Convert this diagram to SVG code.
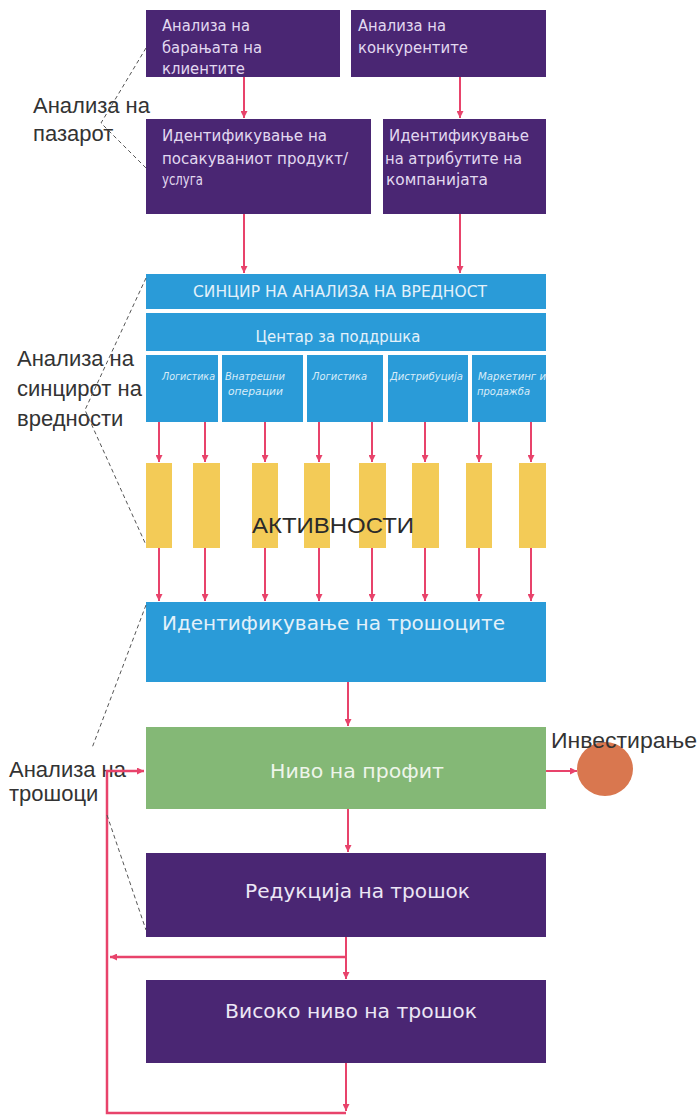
<svg xmlns="http://www.w3.org/2000/svg" width="699" height="1117" viewBox="0 0 699 1117">
<style>
.purple{fill:#4a2673}
.blue{fill:#2a9bd8}
.yellow{fill:#f3cb57}
.green{fill:#84b876}
.bt{font-family:"DejaVu Sans","Liberation Sans",sans-serif;font-size:15px;fill:#e2d9f0}
.wt{font-family:"DejaVu Sans","Liberation Sans",sans-serif;fill:#e3f1fa}
.big{font-family:"DejaVu Sans","Liberation Sans",sans-serif;font-size:19px}
.small{font-family:"DejaVu Sans","Liberation Sans",sans-serif;font-size:10px;fill:#d8ecf8;font-style:italic}
.lbl{font-family:"Liberation Sans",Arial,sans-serif;font-size:22px;fill:#333}
.arr{stroke:#e8436b;stroke-width:2;fill:none}
.ln{stroke:#e8436b;stroke-width:2.5;fill:none}
.dash{stroke:#555;stroke-width:1;stroke-dasharray:4,3;fill:none}
</style>
<defs>
<marker id="ah" viewBox="0 0 8 8" refX="8" refY="4" markerWidth="7" markerHeight="7" markerUnits="userSpaceOnUse" orient="auto">
<path d="M0,0 L8,4 L0,8 z" fill="#e8436b"/>
</marker>
</defs>
<rect width="699" height="1117" fill="#ffffff"/>

<g id="node-clients">
<rect class="purple" x="146" y="10" width="194" height="67"/>
<text class="bt" x="162" y="31" textLength="88" lengthAdjust="spacingAndGlyphs">Анализа на</text>
<text class="bt" x="162" y="53" textLength="100" lengthAdjust="spacingAndGlyphs">барањата на</text>
<text class="bt" x="162" y="74" textLength="83" lengthAdjust="spacingAndGlyphs">клиентите</text>
</g>
<g id="node-competitors">
<rect class="purple" x="351" y="10" width="195" height="67"/>
<text class="bt" x="358" y="31" textLength="88" lengthAdjust="spacingAndGlyphs">Анализа на</text>
<text class="bt" x="358" y="53" textLength="110" lengthAdjust="spacingAndGlyphs">конкурентите</text>
</g>
<g id="node-product">
<rect class="purple" x="146" y="119" width="225" height="95"/>
<text class="bt" x="162" y="141" textLength="165" lengthAdjust="spacingAndGlyphs">Идентификување на</text>
<text class="bt" x="162" y="164" textLength="186" lengthAdjust="spacingAndGlyphs">посакуваниот продукт/</text>
<text class="bt" x="162" y="185" textLength="41" lengthAdjust="spacingAndGlyphs">услуга</text>
</g>
<g id="node-attributes">
<rect class="purple" x="383" y="119" width="163" height="95"/>
<text class="bt" x="389" y="141" textLength="140" lengthAdjust="spacingAndGlyphs">Идентификување</text>
<text class="bt" x="385" y="164" textLength="137" lengthAdjust="spacingAndGlyphs">на атрибутите на</text>
<text class="bt" x="386" y="185" textLength="102" lengthAdjust="spacingAndGlyphs">компанијата</text>
</g>

<g id="node-value-chain">
<rect class="blue" x="146" y="274" width="400" height="35"/>
<text class="wt" x="340" y="297" font-size="15" text-anchor="middle" textLength="294" lengthAdjust="spacingAndGlyphs">СИНЦИР НА АНАЛИЗА НА ВРЕДНОСТ</text>
<rect class="blue" x="146" y="313" width="400" height="38"/>
<text class="wt" x="338" y="342" font-size="15" text-anchor="middle" textLength="165" lengthAdjust="spacingAndGlyphs">Центар за поддршка</text>
<rect class="blue" x="146" y="355" width="72" height="67"/>
<rect class="blue" x="222" y="355" width="81" height="67"/>
<rect class="blue" x="307" y="355" width="76" height="67"/>
<rect class="blue" x="388" y="355" width="80" height="67"/>
<rect class="blue" x="472" y="355" width="74" height="67"/>
<text class="small" x="162" y="380" textLength="53" lengthAdjust="spacingAndGlyphs">Логистика</text>
<text class="small" x="225" y="380" textLength="60" lengthAdjust="spacingAndGlyphs">Внатрешни</text>
<text class="small" x="228" y="395" textLength="55" lengthAdjust="spacingAndGlyphs">операции</text>
<text class="small" x="312" y="380" textLength="55" lengthAdjust="spacingAndGlyphs">Логистика</text>
<text class="small" x="390" y="380" textLength="73" lengthAdjust="spacingAndGlyphs">Дистрибуција</text>
<text class="small" x="478" y="380" textLength="68" lengthAdjust="spacingAndGlyphs">Маркетинг и</text>
<text class="small" x="477" y="395" textLength="53" lengthAdjust="spacingAndGlyphs">продажба</text>
</g>

<g id="node-activities">
<rect class="yellow" x="146" y="463" width="26" height="85"/>
<rect class="yellow" x="193" y="463" width="27" height="85"/>
<rect class="yellow" x="252" y="463" width="26" height="85"/>
<rect class="yellow" x="304" y="463" width="26" height="85"/>
<rect class="yellow" x="359" y="463" width="27" height="85"/>
<rect class="yellow" x="412" y="463" width="27" height="85"/>
<rect class="yellow" x="466" y="463" width="26" height="85"/>
<rect class="yellow" x="519" y="463" width="27" height="85"/>
<text x="252" y="533" font-family="Liberation Sans,Arial,sans-serif" font-size="22" fill="#2a2a2a" textLength="162" lengthAdjust="spacingAndGlyphs">АКТИВНОСТИ</text>
</g>

<g id="node-costs">
<rect class="blue" x="146" y="602" width="400" height="80"/>
<text class="wt big" x="162" y="630" textLength="343" lengthAdjust="spacingAndGlyphs">Идентификување на трошоците</text>
</g>

<g id="node-profit">
<rect class="green" x="146" y="727" width="400" height="82"/>
<text class="big" x="270" y="778" fill="#eef5ea" textLength="174" lengthAdjust="spacingAndGlyphs">Ниво на профит</text>
</g>

<g id="node-invest">
<ellipse cx="605" cy="769" rx="28" ry="27" fill="#d9774f"/>
<text class="lbl" x="551" y="748" textLength="146" lengthAdjust="spacingAndGlyphs">Инвестирање</text>
</g>

<g id="node-reduction">
<rect class="purple" x="146" y="853" width="400" height="84"/>
<text class="big" x="245" y="898" fill="#ece6f5" textLength="225" lengthAdjust="spacingAndGlyphs">Редукција на трошок</text>
</g>

<g id="node-high">
<rect class="purple" x="146" y="980" width="400" height="83"/>
<text class="big" x="225" y="1018" fill="#ece6f5" textLength="252" lengthAdjust="spacingAndGlyphs">Високо ниво на трошок</text>
</g>

<g id="labels">
<text class="lbl" x="33" y="113">Анализа на</text>
<text class="lbl" x="33" y="141">пазарот</text>
<text class="lbl" x="17" y="366">Анализа на</text>
<text class="lbl" x="17" y="396">синцирот на</text>
<text class="lbl" x="17" y="426">вредности</text>
<text class="lbl" x="9" y="777">Анализа на</text>
<text class="lbl" x="9" y="801">трошоци</text>
</g>

<g id="connectors">
<line class="arr" x1="244" y1="77" x2="244" y2="118" marker-end="url(#ah)"/>
<line class="arr" x1="460" y1="77" x2="460" y2="118" marker-end="url(#ah)"/>
<line class="arr" x1="244" y1="214" x2="244" y2="273" marker-end="url(#ah)"/>
<line class="arr" x1="460" y1="214" x2="460" y2="273" marker-end="url(#ah)"/>

<line class="arr" x1="159" y1="422" x2="159" y2="462" marker-end="url(#ah)"/>
<line class="arr" x1="205" y1="422" x2="205" y2="462" marker-end="url(#ah)"/>
<line class="arr" x1="265" y1="422" x2="265" y2="462" marker-end="url(#ah)"/>
<line class="arr" x1="319" y1="422" x2="319" y2="462" marker-end="url(#ah)"/>
<line class="arr" x1="372" y1="422" x2="372" y2="462" marker-end="url(#ah)"/>
<line class="arr" x1="425" y1="422" x2="425" y2="462" marker-end="url(#ah)"/>
<line class="arr" x1="479" y1="422" x2="479" y2="462" marker-end="url(#ah)"/>
<line class="arr" x1="531" y1="422" x2="531" y2="462" marker-end="url(#ah)"/>

<line class="arr" x1="159" y1="548" x2="159" y2="601" marker-end="url(#ah)"/>
<line class="arr" x1="205" y1="548" x2="205" y2="601" marker-end="url(#ah)"/>
<line class="arr" x1="265" y1="548" x2="265" y2="601" marker-end="url(#ah)"/>
<line class="arr" x1="319" y1="548" x2="319" y2="601" marker-end="url(#ah)"/>
<line class="arr" x1="372" y1="548" x2="372" y2="601" marker-end="url(#ah)"/>
<line class="arr" x1="425" y1="548" x2="425" y2="601" marker-end="url(#ah)"/>
<line class="arr" x1="479" y1="548" x2="479" y2="601" marker-end="url(#ah)"/>
<line class="arr" x1="531" y1="548" x2="531" y2="601" marker-end="url(#ah)"/>

<line class="arr" x1="348" y1="682" x2="348" y2="726" marker-end="url(#ah)"/>
<line class="arr" x1="348" y1="809" x2="348" y2="852" marker-end="url(#ah)"/>
<line class="arr" x1="546" y1="771" x2="577" y2="771" marker-end="url(#ah)"/>

<line class="arr" x1="346" y1="937" x2="346" y2="979" marker-end="url(#ah)"/>
<line class="ln" x1="346" y1="957" x2="110" y2="957" marker-end="url(#ah)"/>
<line class="arr" x1="346" y1="1063" x2="346" y2="1111" marker-end="url(#ah)"/>
<polyline class="ln" points="346,1113 107,1113 107,771 144,771" marker-end="url(#ah)"/>

<polyline class="dash" points="146,48 101,123 146,168"/>
<polyline class="dash" points="146,278 85,410 146,545"/>
<line class="dash" x1="146" y1="605" x2="92" y2="748"/>
<line class="dash" x1="107" y1="815" x2="146" y2="930"/>
</g>
</svg>
